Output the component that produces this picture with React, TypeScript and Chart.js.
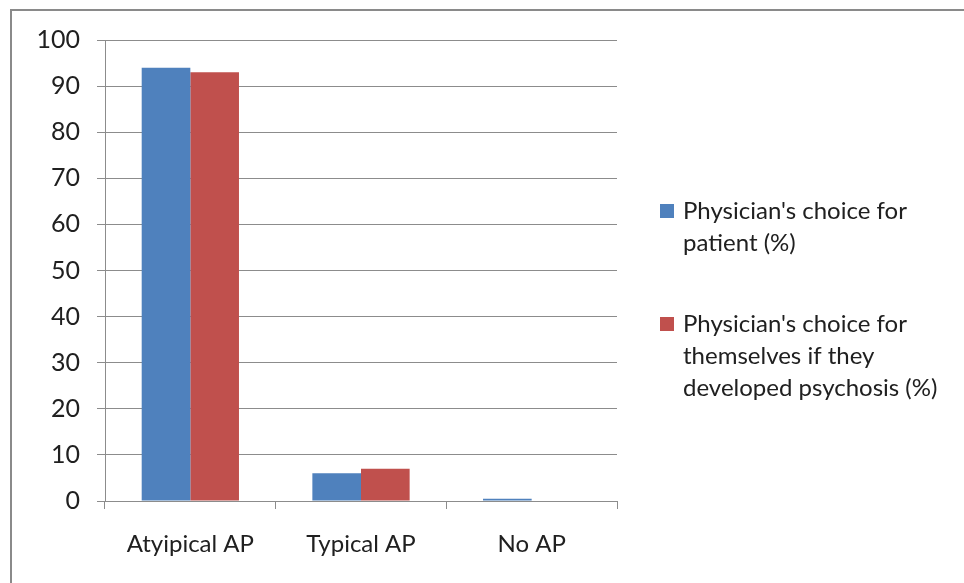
import React, { useEffect, useRef } from "react";
import { Chart, registerables } from "chart.js";

Chart.register(...registerables);

const categories = ["Atyipical AP", "Typical AP", "No AP"];
const patientValues = [94, 6, 0.5];
const selfValues = [93, 7, 0];
const patientLabel = ["Physician's choice for", "patient (%)"];
const selfLabel = ["Physician's choice for", "themselves if they", "developed psychosis (%)"];
const yTicks = [0, 10, 20, 30, 40, 50, 60, 70, 80, 90, 100];

const FONT = "Lato, 'Open Sans', sans-serif";
const TEXT = "#202020";
const GRID = "#8c8c8c";

const framePlugin = {
  id: "frame",
  beforeDraw(chart: any) {
    const ctx = chart.ctx;
    ctx.save();
    ctx.fillStyle = "#ffffff";
    ctx.fillRect(0, 0, chart.width, chart.height);
    ctx.strokeStyle = "#8a8a8a";
    ctx.lineWidth = 2;
    ctx.beginPath();
    ctx.moveTo(11, chart.height);
    ctx.lineTo(11, 10);
    ctx.lineTo(chart.width, 10);
    ctx.stroke();
    ctx.restore();
  },
};

const legendPlugin = {
  id: "customLegend",
  afterDraw(chart: any) {
    const ctx = chart.ctx;
    ctx.save();
    ctx.font = `24px ${FONT}`;
    ctx.textBaseline = "middle";
    ctx.fillStyle = TEXT;
    const starts = [211, 324];
    const lineH = 32;
    chart.data.datasets.forEach((ds: any, i: number) => {
      const y0 = starts[i];
      ctx.fillStyle = ds.backgroundColor;
      ctx.fillRect(660, y0 - 7, 14, 14);
      ctx.fillStyle = TEXT;
      const lines: string[] = Array.isArray(ds.label) ? ds.label : [ds.label];
      lines.forEach((t, j) => ctx.fillText(t, 683, y0 + j * lineH));
    });
    ctx.restore();
  },
};

export default function App() {
  const ref = useRef<HTMLCanvasElement>(null);
  useEffect(() => {
    if (!ref.current) return;
    const chart = new Chart(ref.current, {
      type: "bar",
      data: {
        labels: categories,
        datasets: [
          { label: patientLabel as any, data: patientValues, backgroundColor: "#4F81BD" },
          { label: selfLabel as any, data: selfValues, backgroundColor: "#C0504D" },
        ],
      },
      plugins: [framePlugin, legendPlugin],
      options: {
        animation: false,
        responsive: false,
        maintainAspectRatio: false,
        layout: { padding: { left: 20, top: 40, right: 347, bottom: 0 } },
        datasets: { bar: { categoryPercentage: 0.57, barPercentage: 1 } },
        plugins: { legend: { display: false }, tooltip: { enabled: false } },
        scales: {
          x: {
            afterFit: (s: any) => { s.height = 82; },
            grid: { drawOnChartArea: false, drawTicks: true, tickLength: 8, color: GRID, offset: true },
            border: { display: true, color: GRID, width: 1 },
            ticks: { font: { family: FONT, size: 24 }, color: TEXT, padding: 21 },
          },
          y: {
            min: 0,
            max: 100,
            afterFit: (s: any) => { s.width = 85; },
            afterBuildTicks: (s: any) => { s.ticks = yTicks.map((v) => ({ value: v })); },
            grid: { color: GRID, tickLength: 8, drawTicks: true },
            border: { display: true, color: GRID, width: 1 },
            ticks: { font: { family: FONT, size: 25 }, color: TEXT, padding: 17 },
          },
        },
      },
    });
    return () => chart.destroy();
  }, []);
  return (
    <div style={{ position: "absolute", left: 0, top: 0, width: 964, height: 583 }}>
      <canvas ref={ref} width={964} height={583} style={{ width: 964, height: 583 }} />
    </div>
  );
}
